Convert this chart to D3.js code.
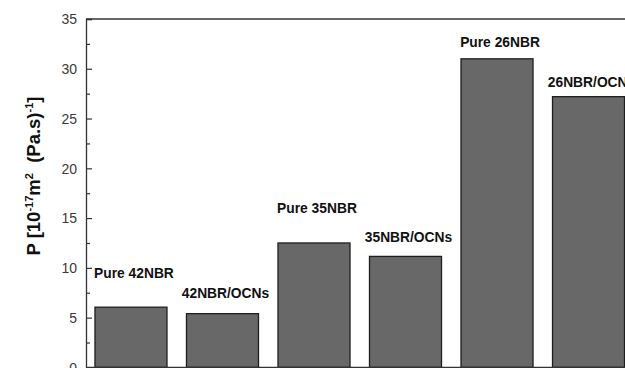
<!DOCTYPE html>
<html>
<head>
<meta charset="utf-8">
<script src="https://cdn.jsdelivr.net/npm/d3@7"></script>
<style>
  html, body { margin: 0; padding: 0; background: #fff; }
  svg { display: block; font-family: "Liberation Sans", Arial, sans-serif; }
</style>
</head>
<body>
<svg id="chart" width="625" height="368"></svg>
<script>
// data
const samples = ['Pure 42NBR', '42NBR/OCNs', 'Pure 35NBR', '35NBR/OCNs', 'Pure 26NBR', '26NBR/OCNs'];
const permeability = [6.05, 5.4, 12.5, 11.15, 31.0, 27.2];
const labelAt = [9.0, 7.0, 15.5, 12.6, 32.2, 28.2];   // label baseline, in data units
const yTicks = [0, 5, 10, 15, 20, 25, 30, 35];

const svg = d3.select('#chart');
const mLeft = 86, mTop = 19, mBottom = 367.4;

const y = d3.scaleLinear().domain([0, 35]).range([mBottom, mTop]);
const x = d3.scaleBand()
  .domain(samples)
  .range([mLeft, 633.5])
  .paddingInner(0.213)
  .paddingOuter(0.098);

// bars
svg.append('g')
  .selectAll('rect')
  .data(samples)
  .join('rect')
    .attr('x', d => x(d))
    .attr('y', (d, i) => y(permeability[i]))
    .attr('width', x.bandwidth())
    .attr('height', (d, i) => y(0) - y(permeability[i]))
    .attr('fill', '#686868')
    .attr('stroke', '#1e1e1e')
    .attr('stroke-width', 1.3);

// bar labels
svg.append('g')
  .selectAll('text')
  .data(samples)
  .join('text')
    .attr('x', d => x(d) + x.bandwidth() / 2 + 3)
    .attr('y', (d, i) => y(labelAt[i]))
    .attr('text-anchor', 'middle')
    .attr('font-size', 13.8)
    .attr('font-weight', 'bold')
    .attr('fill', '#111')
    .text(d => d);

// frame: top + bottom lines
svg.append('line')
  .attr('x1', mLeft).attr('x2', 625)
  .attr('y1', mTop).attr('y2', mTop)
  .attr('stroke', '#333').attr('stroke-width', 1.3);
svg.append('line')
  .attr('x1', mLeft).attr('x2', 625)
  .attr('y1', mBottom).attr('y2', mBottom)
  .attr('stroke', '#333').attr('stroke-width', 1.3);

// y axis, ticks pointing inward
const yAxis = svg.append('g')
  .attr('transform', `translate(${mLeft},0)`)
  .call(d3.axisRight(y).tickValues(yTicks).tickSize(6).tickFormat(d3.format('d')));
yAxis.select('.domain').attr('stroke', '#333').attr('stroke-width', 1.3);
yAxis.selectAll('.tick line').attr('stroke', '#333').attr('stroke-width', 1.2);
yAxis.selectAll('.tick text')
  .attr('x', -9)
  .attr('text-anchor', 'end')
  .attr('font-size', 14)
  .attr('fill', '#3a3a3a')
  .attr('dy', '0.35em');

// minor ticks
svg.append('g')
  .attr('transform', `translate(${mLeft},0)`)
  .call(d3.axisRight(y).tickValues(d3.range(2.5, 35, 5)).tickSize(4).tickFormat(''))
  .call(g => g.select('.domain').remove())
  .selectAll('.tick line').attr('stroke', '#333').attr('stroke-width', 1.2);

// y axis title
const title = svg.append('text')
  .attr('transform', 'translate(40,176) rotate(-90)')
  .attr('text-anchor', 'middle')
  .attr('font-size', 18.5)
  .attr('font-weight', 'bold')
  .attr('fill', '#111');
title.append('tspan').text('P [10');
title.append('tspan').attr('font-size', 11).attr('dy', -7).text('-17');
title.append('tspan').attr('dy', 7).text('m');
title.append('tspan').attr('font-size', 11).attr('dy', -7).text('2');
title.append('tspan').attr('dy', 7).text('\u00a0 (Pa.s)');
title.append('tspan').attr('font-size', 11).attr('dy', -7).text('-1');
title.append('tspan').attr('dy', 7).text(']');
</script>
</body>
</html>
